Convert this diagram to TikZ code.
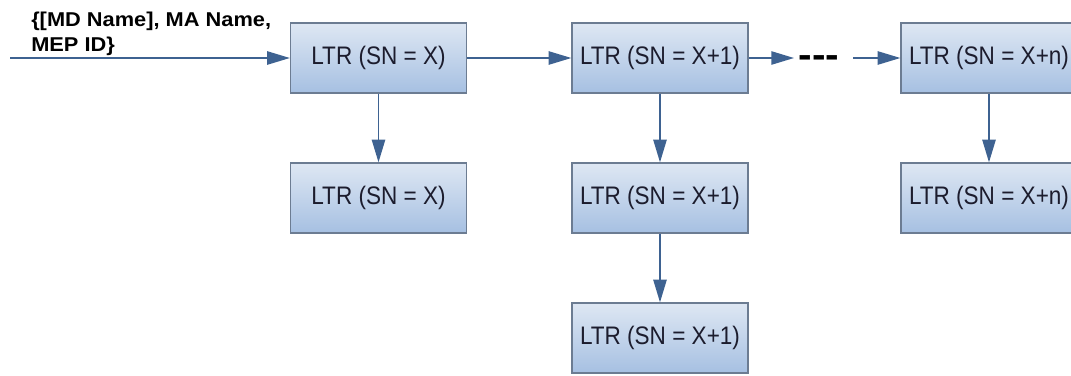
\documentclass[tikz,border=0pt]{standalone}
\usepackage{fontspec}
\setmainfont{Liberation Sans}
\newfontfamily\boxfont[FakeStretch=0.89]{Liberation Sans}
\newfontfamily\lblfont[FakeStretch=1.09]{Liberation Sans Bold}
\usetikzlibrary{arrows.meta}
\definecolor{boxtop}{RGB}{222,231,243}
\definecolor{boxbot}{RGB}{166,192,226}
\definecolor{boxline}{RGB}{108,124,146}
\definecolor{arrowc}{RGB}{62,98,145}
\definecolor{txtc}{RGB}{28,28,45}
\tikzset{
  ltrbox/.style={draw=boxline, line width=1pt, top color=boxtop, bottom color=boxbot,
    minimum width=132pt, minimum height=52.5pt, inner sep=0pt,
    font=\boxfont\fontsize{19pt}{22pt}\selectfont, text=txtc},
  conn/.style={draw=arrowc, line width=1.1pt, -{Triangle[length=17pt,width=10pt]}},
  lbl/.style={font=\lblfont\fontsize{15pt}{18.75pt}\selectfont, align=left, inner sep=0pt, text=black},
  dots/.style={font=\lblfont\fontsize{28pt}{28pt}\selectfont, inner sep=0pt, text=black}
}
\begin{document}
\begin{tikzpicture}[x=0.75pt,y=-0.75pt]
\useasboundingbox (0,0) rectangle (1071,375);
\clip (0,0) rectangle (1071,375);
\node[ltrbox] (b1) at (378.5,58) {LTR (SN = X)};
\node[ltrbox] (b2) at (660,58) {LTR (SN = X+1)};
\node[ltrbox] (b3) at (989,58) {LTR (SN = X+n)};
\node[ltrbox] (b1d) at (378.5,198) {LTR (SN = X)};
\node[ltrbox] (b2d) at (660,198) {LTR (SN = X+1)};
\node[ltrbox] (b3d) at (989,198) {LTR (SN = X+n)};
\node[ltrbox] (b2dd) at (660,338) {LTR (SN = X+1)};
\node[lbl, anchor=north west] (lab) at (31,12) {\{[MD Name], MA Name,\\MEP ID\}};
\coordinate (start) at (10,58);
\coordinate (dtip) at (794,58);
\coordinate (dstart) at (853,58);
\node[dots] (dd) at (819,62) {-{}-{}-};
\draw[conn] (start) -- (b1.west);
\draw[conn] (b1.east) -- (b2.west);
\draw[conn] (b2.east) -- (dtip);
\draw[conn] (dstart) -- (b3.west);
\draw[conn] (b1.south) -- (b1d.north);
\draw[conn] (b2.south) -- (b2d.north);
\draw[conn] (b2d.south) -- (b2dd.north);
\draw[conn] (b3.south) -- (b3d.north);
\end{tikzpicture}
\end{document}
